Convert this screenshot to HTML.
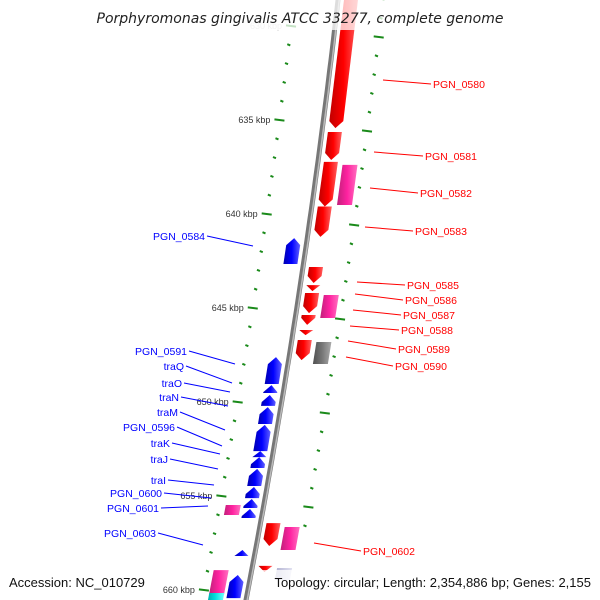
<!DOCTYPE html>
<html><head><meta charset="utf-8"><style>
html,body{margin:0;padding:0;background:#fff;}
svg{display:block;font-family:"Liberation Sans","DejaVu Sans",sans-serif;}
</style></head><body>
<svg id="map" width="600" height="600" viewBox="0 0 600 600" xmlns="http://www.w3.org/2000/svg">
<defs>
<linearGradient id="gRed" x1="0" x2="1"><stop offset="0" stop-color="#c00000"/><stop offset="0.5" stop-color="#ff0000"/><stop offset="1" stop-color="#ff6060"/></linearGradient>
<linearGradient id="gBlue" x1="0" x2="1"><stop offset="0" stop-color="#0000b0"/><stop offset="0.5" stop-color="#0000ff"/><stop offset="1" stop-color="#6060ff"/></linearGradient>
<linearGradient id="gPink" x1="0" x2="1"><stop offset="0" stop-color="#c0207a"/><stop offset="0.5" stop-color="#ff22a0"/><stop offset="1" stop-color="#ff70c0"/></linearGradient>
<linearGradient id="gGray" x1="0" x2="1"><stop offset="0" stop-color="#505050"/><stop offset="0.5" stop-color="#777"/><stop offset="1" stop-color="#aaa"/></linearGradient>
<linearGradient id="gCyan" x1="0" x2="1"><stop offset="0" stop-color="#00a0a0"/><stop offset="0.5" stop-color="#00dddd"/><stop offset="1" stop-color="#70ffff"/></linearGradient>
<linearGradient id="gLav" x1="0" x2="1"><stop offset="0" stop-color="#b0b0d0"/><stop offset="1" stop-color="#e0e0f0"/></linearGradient>
</defs>
<g id="ticks"></g>
<g id="backbone"></g>
<g id="genes"></g>
<g id="labels"></g>
<rect x="0" y="0" width="600" height="30" fill="#fff" fill-opacity="0.75"/>
<text x="300" y="23" text-anchor="middle" font-size="14" font-style="italic" fill="#222" style="font-family:'DejaVu Sans',sans-serif">Porphyromonas gingivalis ATCC 33277, complete genome</text>
<rect x="255" y="570" width="345" height="24" fill="#fff" fill-opacity="0.75"/>
<rect x="5" y="570" width="145" height="24" fill="#fff" fill-opacity="0.75"/>
<text x="9" y="587" font-size="13" fill="#111">Accession: NC_010729</text>
<text x="591" y="587" text-anchor="end" font-size="13" fill="#111">Topology: circular; Length: 2,354,886 bp; Genes: 2,155</text>
</svg>
<script>
// data
const tickKbp = [630,631,632,633,634,635,636,637,638,639,640,641,642,643,644,645,646,647,648,649,650,651,652,653,654,655,656,657,658,659,660,661];
const majorLabels = ["630 kbp","635 kbp","640 kbp","645 kbp","650 kbp","655 kbp","660 kbp"];
const geneStart = [628.6,635.64,637.23,639.6,642.82,643.78,644.2,645.37,646.17,646.7,656.44,658.72, 637.39,644.31,646.81,656.65,658.83,
  641.28,647.61,649.1,649.63,650.27,651.22,652.61,652.93,653.56,654.52,655.16,655.69,657.87,659.2, 655.48,658.94,660.16];
const geneEnd =   [635.43,637.13,639.6,641.22,643.67,644.1,645.27,645.9,646.44,647.77,657.66,659.04, 639.52,645.53,647.98,657.87,659.47,
  642.66,649.04,649.52,650.21,651.17,652.61,652.93,653.51,654.47,655.11,655.64,656.17,658.19,660.43, 656.01,660.27,661.2];
const geneRing =  [1,1,1,1,1,1,1,1,1,1,1,1, 2,2,2,2,2, -1,-1,-1,-1,-1,-1,-1,-1,-1,-1,-1,-1,-1,-1, -2,-2,-2];
const geneColor = ["red","red","red","red","red","red","red","red","red","red","red","red","pink","pink","gray","pink","lav",
  "blue","blue","blue","blue","blue","blue","blue","blue","blue","blue","blue","blue","blue","blue","pink","pink","cyan"];

const NS="http://www.w3.org/2000/svg";
function yOf(k){return 120+(k-635)*18.8;}
function lineX(y){return 338-0.11333*y-0.0000667*y*y;}
function mk(tag,attrs,parent){const e=document.createElementNS(NS,tag);for(const a in attrs)e.setAttribute(a,attrs[a]);parent.appendChild(e);return e;}

const bb=document.getElementById('backbone');
let d="";for(let y=-10;y<=610;y+=10){d+=(y===-10?"M":"L")+(lineX(y)).toFixed(1)+","+y;}
const p1=mk('path',{d:d,stroke:'#777',"stroke-width":5,fill:'none'},bb);


let d2="";for(let y=-10;y<=610;y+=10){d2+=(y===-10?"M":"L")+(lineX(y)+1.2).toFixed(1)+","+y;}
const p2=mk('path',{d:d2,stroke:'#bbb',"stroke-width":1.5,fill:'none'},bb);



const tg=document.getElementById('ticks');
tickKbp.forEach((k,i)=>{
  const major=k%5===0;
  const y=yOf(k);
  const x=lineX(y)-44;
  const t=mk('line',{x1:x-(major?5:1.5),y1:y-0.6,x2:x+(major?5:1.5),y2:y+0.6,stroke:'#1a8a1a',"stroke-width":2},tg);
  
  
  const yr2=yOf(k-0.5)-83+9.4;
  const xr=lineX(yr2)+45;
  const t2=mk('line',{x1:xr-(major?5:1.5),y1:yr2-0.6,x2:xr+(major?5:1.5),y2:yr2+0.6,stroke:'#1a8a1a',"stroke-width":2},tg);
  
  
  if(major){
    const lab=mk('text',{x:x-9,y:y+3,"text-anchor":"end","font-size":9,fill:k===630?'#ccc':'#333'},tg);
    lab.textContent=majorLabels[(k-630)/5];
    
    
  }
});

const gg=document.getElementById('genes');
const ringOff={"1":[6,20],"2":[25,40],"-1":[-20,-6],"-2":[-38,-23]};
const fills={red:'url(#gRed)',blue:'url(#gBlue)',pink:'url(#gPink)',gray:'url(#gGray)',cyan:'url(#gCyan)',lav:'url(#gLav)'};
geneStart.forEach((s,i)=>{
  const y1=yOf(s),y2=yOf(geneEnd[i]);
  const [a,b]=ringOff[geneRing[i]];
  const len=y2-y1;const h=Math.min(7,len);
  const X=(y,o)=>(lineX(y)+o).toFixed(1);
  let pts;
  const col=geneColor[i];
  const arrow=(col==='red'||col==='blue');
  if(arrow && geneRing[i]>0){
    const m=(a+b)/2;
    pts=[[X(y1,a),y1],[X(y1,b),y1],[X(y2-h,b),y2-h],[X(y2,m),y2],[X(y2-h,a),y2-h]];
  }else if(arrow){
    const m=(a+b)/2;
    pts=[[X(y1,m),y1],[X(y1+h,b),y1+h],[X(y2,b),y2],[X(y2,a),y2],[X(y1+h,a),y1+h]];
  }else{
    pts=[[X(y1,a),y1],[X(y1,b),y1],[X(y2,b),y2],[X(y2,a),y2]];
  }
  const g=mk('polygon',{points:pts.map(p=>p[0]+","+(+p[1]).toFixed(1)).join(" "),fill:fills[col]},gg);
  
  
});

const lg=document.getElementById('labels');
const R=[["PGN_0580",433,88,383,80],["PGN_0581",425,160,374,152],["PGN_0582",420,197,370,188],["PGN_0583",415,235,365,227],
["PGN_0585",407,289,357,282],["PGN_0586",405,304,355,294],["PGN_0587",403,319,353,310],["PGN_0588",401,334,350,326],
["PGN_0589",398,353,348,341],["PGN_0590",395,370,346,357],["PGN_0602",363,555,314,543]];
R.forEach(r=>{
  const l=mk('line',{x1:r[3],y1:r[4],x2:r[1]-2,y2:r[2]-4,stroke:'#f00',"stroke-width":1},lg);
  
  
  const t=mk('text',{x:r[1],y:r[2],"font-size":10.5,fill:'#f00'},lg);t.textContent=r[0];
  
  
});
const L=[["PGN_0584",205,240,253,246],["PGN_0591",187,355,235,364],["traQ",184,370,232,383],["traO",182,387,230,392],
["traN",179,401,228,406],["traM",178,416,225,430],["PGN_0596",175,431,222,446],["traK",170,447,220,454],["traJ",168,463,218,469],
["traI",166,484,214,485],["PGN_0600",162,497,211,498],["PGN_0601",159,512,208,506],["PGN_0603",156,537,203,545]];
L.forEach(r=>{
  const l=mk('line',{x1:r[1]+2,y1:r[2]-4,x2:r[3],y2:r[4],stroke:'#00f',"stroke-width":1},lg);
  
  
  const t=mk('text',{x:r[1],y:r[2],"font-size":10.5,fill:'#00f',"text-anchor":"end"},lg);t.textContent=r[0];
  
  
});
</script>
</body></html>
